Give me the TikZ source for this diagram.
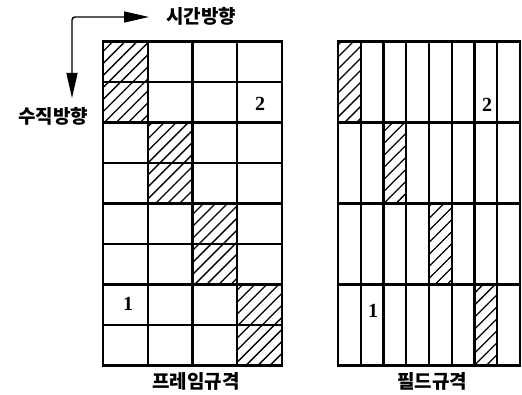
\documentclass[tikz,border=0pt]{standalone}
\usepackage{fontspec}
\setmainfont{Liberation Serif}
\newfontfamily\kr{Noto Sans CJK KR}
\usetikzlibrary{arrows.meta,patterns.meta}
\tikzset{
  gitter/.style={line width=2.2pt,line cap=rect},
  schraffur/.style={pattern={Lines[angle=45,distance=8.5pt,line width=1.3pt]}},
  pfeil/.style={{Triangle[length=25pt,width=11pt]}-{Triangle[length=25pt,width=11pt]},line width=1.4pt,rounded corners=3pt},
  beschr/.style={font=\kr\bfseries\fontsize{19}{19}\selectfont,inner sep=0pt},
  ziffer/.style={font=\bfseries\fontsize{20}{20}\selectfont,inner sep=0pt},
}

\begin{document}
\begin{tikzpicture}[x=1pt,y=-1pt]
  \useasboundingbox (0,0) rectangle (522,395);
  \foreach \c/\r in {0/0,0/1,1/2,1/3,2/4,2/5,3/6,3/7}
    \path[schraffur] ({103+44.75*\c},{41.5+40.5*\r}) rectangle ++(44.75,40.5);
  \foreach \i in {0,...,4} \draw[gitter] ({103+44.75*\i},41.5) -- ++(0,324);
  \foreach \j in {0,...,8} \draw[gitter] (103,{41.5+40.5*\j}) -- ++(179,0);
  \foreach \c/\r in {0/0,2/1,4/2,6/3}
    \path[schraffur] ({338+22.75*\c},{41.5+81*\r}) rectangle ++(22.75,81);
  \foreach \i in {0,...,8} \draw[gitter] ({338+22.75*\i},41.5) -- ++(0,324);
  \foreach \j in {0,...,4} \draw[gitter] (338,{41.5+81*\j}) -- ++(182,0);
  \node[ziffer] (zweil) at (260,104) {2};
  \node[ziffer] (einsl) at (128,304) {1};
  \node[ziffer] (zweir) at (487,105) {2};
  \node[ziffer] (einsr) at (373,311) {1};
  \node[beschr] (zeit) at (201,16) {시간방향};
  \node[beschr] (senk) at (53,116) {수직방향};
  \node[beschr] (rahmen) at (196,381) {프레임규격};
  \node[beschr] (feld) at (432,381) {필드규격};
  \coordinate (ecke) at (72,17);
  \coordinate (hspitze) at (149,17);
  \coordinate (vspitze) at (72,98);
  \draw[pfeil] (vspitze) -- (ecke) -- (hspitze);
\end{tikzpicture}
\end{document}
